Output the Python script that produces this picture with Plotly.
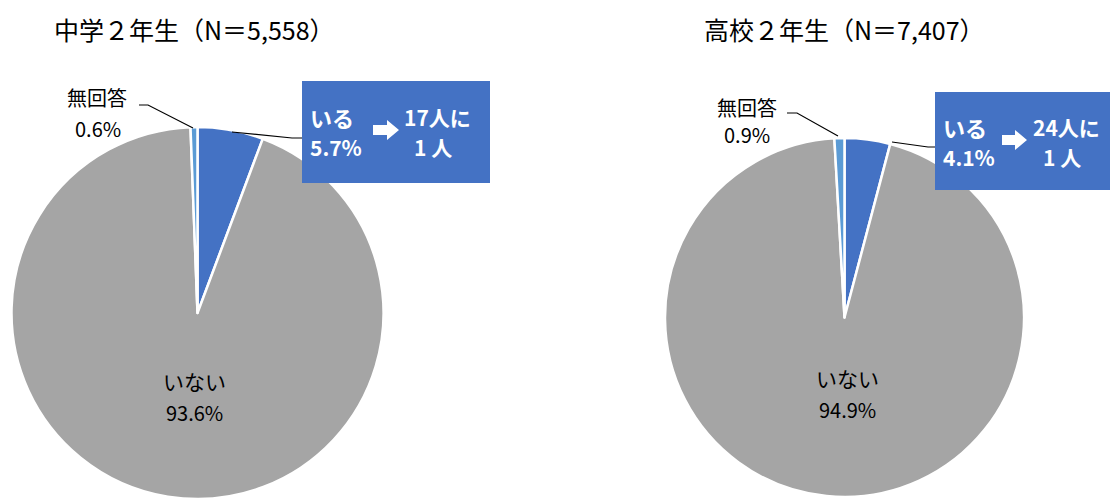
import plotly.graph_objects as go

# ---- data ----
categories = ["いる", "いない", "無回答"]
jhs_values = [5.7, 93.6, 0.6]
hs_values = [4.1, 94.9, 0.9]
titles = ["中学２年生（N＝5,558）", "高校２年生（N＝7,407）"]
ratios = [17, 24]
colors = ["#4472C4", "#A5A5A5", "#5B9BD5"]

W, H = 1110, 499
FONT = "Noto Sans CJK JP"


def px(x):
    return x / W


def py(y):
    return 1 - y / H


fig = go.Figure()

# pie geometry (pixels): x0, x1, ytop, ybottom
geoms = [(11, 384, 127, 499), (665, 1024, 138, 497)]
for vals, g in zip([jhs_values, hs_values], geoms):
    fig.add_trace(go.Pie(
        labels=categories, values=vals, sort=False, direction="clockwise",
        rotation=0, marker=dict(colors=colors, line=dict(color="white", width=2.5)),
        textinfo="none", hoverinfo="label+percent", showlegend=False,
        domain=dict(x=[px(g[0]), px(g[1])], y=[max(0, py(g[3])), py(g[2])]),
    ))

ann = []
shapes = []


def text(x, y, s, size=16, color="black", bold=False, xanchor="center"):
    if bold:
        s = "<b>" + s + "</b>"
    ann.append(dict(x=px(x), y=py(y), xref="paper", yref="paper", text=s,
                    showarrow=False, xanchor=xanchor, yanchor="middle",
                    font=dict(family=FONT, size=size, color=color)))


def line(pts):
    path = "M " + " L ".join(f"{px(a)},{py(b)}" for a, b in pts)
    shapes.append(dict(type="path", xref="paper", yref="paper", path=path,
                       line=dict(color="black", width=1.2)))


layouts = [
    dict(title=(52, 29), nolab=(97, 98), nopct=(98, 128), noline=[(139, 105), (148, 105), (193, 128)],
         box=(302, 81, 490, 183), yesline=[(232, 132), (292, 138), (302, 138)],
         iru=(308, 117), pct=(308, 147), arrow=(373, 387, 399, 130), r1=(437, 117), r2=(433, 147),
         inner=(194, 381, 412)),
    dict(title=(702, 29), nolab=(747, 107), nopct=(747, 135), noline=[(787, 113), (797, 113), (838, 136)],
         box=(935, 92, 1110, 190), yesline=[(892, 142), (928, 147), (935, 147)],
         iru=(941, 127), pct=(941, 157), arrow=(1002, 1015, 1027, 140), r1=(1066, 127), r2=(1062, 157),
         inner=(847, 378, 409)),
]

for vals, L, t, r in zip([jhs_values, hs_values], layouts, titles, ratios):
    text(L["title"][0], L["title"][1], t, size=25, xanchor="left")
    text(L["nolab"][0], L["nolab"][1], categories[2], size=20)
    text(L["nopct"][0], L["nopct"][1], f"{vals[2]}%", size=20)
    line(L["noline"])
    line(L["yesline"])
    bx = L["box"]
    shapes.append(dict(type="rect", xref="paper", yref="paper", x0=px(bx[0]), x1=px(bx[2]),
                       y0=py(bx[3]), y1=py(bx[1]), fillcolor="#4472C4", line=dict(width=0), layer="above"))
    text(L["iru"][0], L["iru"][1], categories[0], size=22, color="white", bold=True, xanchor="left")
    text(L["pct"][0], L["pct"][1], f"{vals[0]}%", size=21, color="white", bold=True, xanchor="left")
    a0, a1, a2, ay = L["arrow"]
    apath = (f"M {px(a0)},{py(ay-5)} L {px(a1)},{py(ay-5)} L {px(a1)},{py(ay-10)} L {px(a2)},{py(ay)} "
             f"L {px(a1)},{py(ay+10)} L {px(a1)},{py(ay+5)} L {px(a0)},{py(ay+5)} Z")
    shapes.append(dict(type="path", xref="paper", yref="paper", path=apath,
                       fillcolor="white", line=dict(width=0), layer="above"))
    text(L["r1"][0], L["r1"][1], f"{r}人に", size=21, color="white", bold=True)
    text(L["r2"][0], L["r2"][1], "1 人", size=21, color="white", bold=True)
    ix, iy1, iy2 = L["inner"]
    text(ix, iy1, categories[1], size=21)
    text(ix, iy2, f"{vals[1]}%", size=20)

fig.update_layout(width=W, height=H, margin=dict(l=0, r=0, t=0, b=0),
                  paper_bgcolor="white", plot_bgcolor="white",
                  annotations=ann, shapes=shapes, font=dict(family=FONT))
fig.write_html("out.html", config={"displayModeBar": False},
               post_script="document.body.style.margin='0';document.body.style.overflow='hidden';")
